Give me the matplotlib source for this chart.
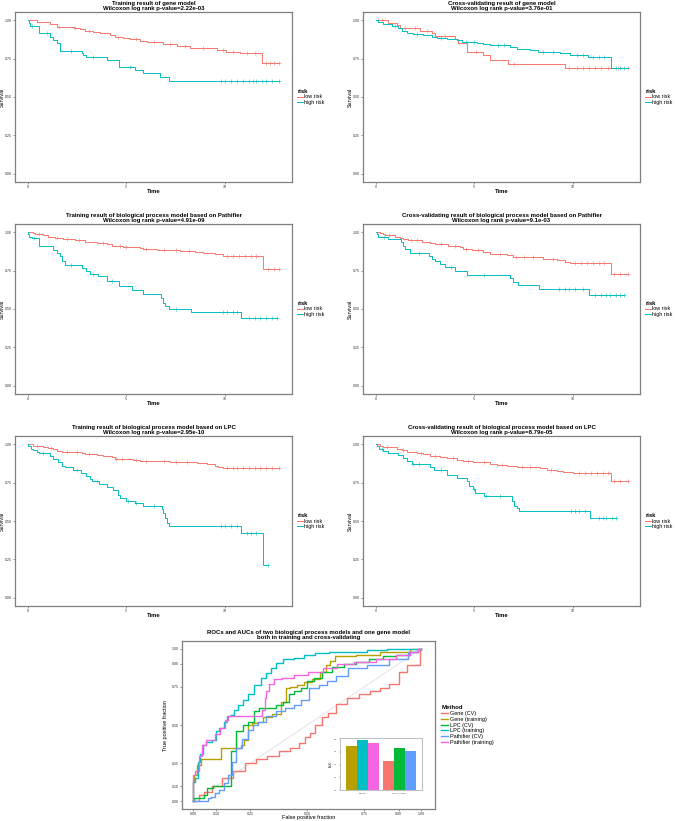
import numpy as np
import matplotlib
matplotlib.use("Agg")
import matplotlib.pyplot as plt

plt.rcParams['font.family'] = ['Liberation Sans', 'DejaVu Sans']

# ---------------- data ----------------
LOW_COLOR = '#F8766D'
HIGH_COLOR = '#00BFC4'

titles = [
    "Training result of gene model\nWilcoxon log rank p-value=2.22e-03",
    "Cross-validating result of gene model\nWilcoxon log rank p-value=3.76e-01",
    "Training result of biological process model based on Pathifier\nWilcoxon log rank p-value=4.91e-09",
    "Cross-validating result of biological process model based on Pathifier\nWilcoxon log rank p-value=9.1e-03",
    "Training result of biological process model based on LPC\nWilcoxon log rank p-value=2.95e-10",
    "Cross-validating result of biological process model based on LPC\nWilcoxon log rank p-value=8.79e-05",
]

# panel 1: training gene
p1_low_t = [0, 0.46, 1.13, 1.47, 2.33, 2.65, 2.90, 3.33, 3.67, 4.17, 4.42, 4.85, 5.19, 5.71, 6.05, 6.87, 7.55, 8.22, 8.73, 9.58, 10.08, 10.76, 11.86, 12.75]
p1_low_s = [1.0, 0.99, 0.974, 0.957, 0.946, 0.94, 0.93, 0.924, 0.913, 0.903, 0.887, 0.881, 0.874, 0.866, 0.859, 0.842, 0.831, 0.82, 0.816, 0.805, 0.794, 0.784, 0.723, 0.723]
p1_low_c = [1.6, 2.4, 3.1, 4.6, 5.5, 6.4, 7.2, 8.0, 8.9, 9.9, 10.4, 11.1, 11.5, 12.1, 12.3, 12.5, 12.75]
p1_high_t = [0, 0.05, 0.12, 0.59, 1.13, 1.30, 1.47, 1.64, 2.74, 2.79, 2.96, 4.00, 4.65, 5.44, 5.84, 6.70, 7.18, 12.75]
p1_high_s = [1.0, 0.983, 0.96, 0.913, 0.892, 0.87, 0.848, 0.80, 0.783, 0.77, 0.757, 0.74, 0.697, 0.675, 0.654, 0.628, 0.606, 0.606]
p1_high_c = [0.2, 1.0, 2.2, 3.3, 5.2, 9.8, 10.0, 10.3, 10.6, 10.9, 11.2, 11.4, 11.6, 11.9, 12.1, 12.4, 12.75]

# panel 2: cross-validating gene
p2_low_t = [0, 0.64, 1.06, 1.23, 2.25, 2.84, 3.01, 4.02, 4.19, 4.61, 5.46, 5.79, 6.72, 9.59, 12.77]
p2_low_s = [1.0, 0.983, 0.968, 0.95, 0.93, 0.913, 0.896, 0.877, 0.848, 0.794, 0.773, 0.74, 0.714, 0.686, 0.686]
p2_low_c = [0.1, 0.3, 1.5, 2.0, 2.6, 3.5, 5.1, 7.0, 9.8, 10.2, 10.5, 10.8, 11.1, 11.4, 11.8, 12.3, 12.77]
p2_high_t = [0, 0.14, 0.39, 0.81, 1.15, 1.32, 1.57, 1.91, 2.42, 2.84, 3.09, 3.60, 4.10, 4.36, 5.12, 5.46, 5.79, 6.81, 7.15, 7.82, 8.24, 9.34, 9.85, 10.78, 11.93, 12.77]
p2_high_s = [1.0, 0.989, 0.974, 0.96, 0.946, 0.93, 0.918, 0.91, 0.903, 0.892, 0.885, 0.879, 0.87, 0.859, 0.853, 0.844, 0.838, 0.827, 0.81, 0.805, 0.794, 0.784, 0.773, 0.758, 0.686, 0.686]
p2_high_c = [1.0, 2.1, 3.3, 4.6, 5.0, 6.2, 6.5, 8.5, 9.0, 10.2, 10.5, 11.0, 11.3, 11.6, 12.2, 12.4, 12.6]

# panel 3: training Pathifier
p3_low_t = [0, 0.29, 0.37, 0.79, 1.05, 1.39, 1.81, 2.40, 2.91, 3.50, 4.00, 4.26, 4.85, 5.27, 5.69, 5.86, 6.54, 7.13, 7.72, 8.48, 8.90, 9.49, 9.66, 9.92, 11.91, 12.75]
p3_low_s = [1.0, 0.993, 0.985, 0.98, 0.97, 0.962, 0.955, 0.945, 0.935, 0.93, 0.92, 0.91, 0.905, 0.9, 0.895, 0.89, 0.885, 0.88, 0.875, 0.87, 0.865, 0.86, 0.855, 0.845, 0.762, 0.762]
p3_low_c = [0.6, 1.5, 2.0, 2.6, 3.8, 4.7, 5.0, 6.0, 6.9, 7.5, 8.2, 10.1, 10.4, 10.7, 11.0, 11.3, 11.6, 12.2, 12.5, 12.75]
p3_high_t = [0, 0.03, 0.08, 0.20, 0.59, 1.30, 1.47, 1.64, 1.72, 1.89, 2.74, 2.96, 3.16, 3.58, 4.04, 4.63, 5.27, 5.83, 6.74, 6.88, 6.97, 7.18, 8.26, 10.79, 12.62]
p3_high_s = [1.0, 0.985, 0.97, 0.96, 0.911, 0.886, 0.864, 0.842, 0.814, 0.788, 0.767, 0.745, 0.73, 0.713, 0.685, 0.648, 0.626, 0.60, 0.572, 0.54, 0.518, 0.497, 0.482, 0.443, 0.443]
p3_high_c = [0.3, 2.2, 3.3, 4.3, 7.5, 9.9, 10.1, 10.4, 10.6, 11.2, 11.5, 11.8, 12.1, 12.4, 12.62]

# panel 4: cross-validating Pathifier
p4_low_t = [0, 0.22, 0.39, 0.47, 0.98, 1.23, 1.40, 1.66, 2.33, 2.75, 3.01, 3.68, 4.27, 4.44, 4.86, 5.46, 5.79, 6.05, 6.64, 6.98, 7.82, 8.50, 9.17, 9.59, 9.85, 11.91, 12.77]
p4_low_s = [1.0, 0.993, 0.985, 0.978, 0.97, 0.96, 0.952, 0.945, 0.935, 0.928, 0.92, 0.91, 0.9, 0.89, 0.88, 0.87, 0.86, 0.855, 0.848, 0.84, 0.835, 0.825, 0.815, 0.805, 0.80, 0.728, 0.728]
p4_low_c = [0.7, 1.8, 2.1, 3.3, 4.0, 4.6, 5.2, 6.3, 7.1, 7.5, 8.0, 9.0, 10.1, 10.4, 10.7, 11.0, 11.3, 11.6, 12.1, 12.4, 12.77]
p4_high_t = [0, 0.05, 0.14, 0.64, 1.27, 1.37, 1.49, 1.74, 2.72, 2.84, 3.01, 3.26, 3.51, 4.02, 4.61, 6.81, 6.94, 7.23, 8.29, 10.83, 12.60]
p4_high_s = [1.0, 0.985, 0.965, 0.955, 0.935, 0.91, 0.89, 0.865, 0.845, 0.825, 0.81, 0.79, 0.77, 0.75, 0.72, 0.70, 0.675, 0.655, 0.63, 0.594, 0.594]
p4_high_c = [0.4, 2.2, 3.8, 5.5, 9.3, 9.6, 9.8, 10.1, 10.5, 11.1, 11.4, 11.7, 11.9, 12.2, 12.4, 12.6]

# panel 5: training LPC
p5_low_t = [0, 0.29, 0.46, 0.79, 1.05, 1.30, 1.47, 1.72, 2.23, 2.74, 2.91, 3.50, 3.83, 4.09, 4.26, 4.43, 4.93, 5.35, 5.69, 6.54, 7.21, 7.97, 8.56, 9.07, 9.49, 9.66, 9.92, 12.75]
p5_low_s = [1.0, 0.99, 0.985, 0.98, 0.975, 0.965, 0.955, 0.95, 0.945, 0.94, 0.935, 0.93, 0.925, 0.92, 0.915, 0.905, 0.90, 0.895, 0.89, 0.888, 0.885, 0.882, 0.875, 0.87, 0.86, 0.853, 0.845, 0.845]
p5_low_c = [0.5, 1.2, 2.0, 2.5, 3.1, 4.5, 4.8, 5.5, 6.0, 6.9, 7.5, 8.1, 10.1, 10.4, 10.6, 10.9, 11.2, 11.5, 11.8, 12.1, 12.4, 12.75]
p5_high_t = [0, 0.03, 0.15, 0.29, 0.46, 0.59, 1.13, 1.30, 1.55, 1.72, 1.89, 2.28, 2.70, 2.96, 3.16, 3.24, 3.61, 4.04, 4.34, 4.59, 4.68, 4.98, 5.44, 5.83, 6.79, 6.88, 6.97, 7.05, 7.18, 10.81, 11.94, 12.16]
p5_high_s = [1.0, 0.985, 0.97, 0.96, 0.95, 0.94, 0.92, 0.90, 0.88, 0.86, 0.85, 0.83, 0.81, 0.79, 0.775, 0.76, 0.74, 0.72, 0.70, 0.67, 0.65, 0.63, 0.62, 0.60, 0.58, 0.55, 0.52, 0.49, 0.465, 0.42, 0.215, 0.215]
p5_high_c = [0.8, 2.5, 3.5, 5.1, 5.5, 6.4, 9.8, 10.0, 10.3, 10.6, 11.1, 11.3, 11.6, 12.16]

# panel 6: cross-validating LPC
p6_low_t = [0, 0.22, 0.39, 0.81, 1.06, 1.32, 1.57, 2.08, 2.42, 2.75, 3.26, 3.60, 4.10, 4.44, 4.95, 5.29, 5.79, 6.13, 6.64, 7.15, 7.99, 8.33, 8.67, 9.17, 9.51, 10.02, 11.91, 12.77]
p6_low_s = [1.0, 0.99, 0.983, 0.978, 0.97, 0.958, 0.946, 0.94, 0.932, 0.924, 0.915, 0.907, 0.897, 0.888, 0.883, 0.88, 0.873, 0.866, 0.86, 0.853, 0.849, 0.842, 0.834, 0.825, 0.816, 0.81, 0.758, 0.758]
p6_low_c = [0.6, 1.4, 2.3, 3.0, 3.9, 4.7, 5.5, 6.4, 7.4, 7.8, 8.9, 10.3, 10.6, 10.9, 11.2, 11.5, 11.8, 12.1, 12.4, 12.77]
p6_high_t = [0, 0.05, 0.19, 0.39, 0.64, 1.15, 1.37, 1.57, 1.82, 2.75, 2.96, 3.60, 4.14, 4.61, 4.75, 4.92, 5.03, 5.51, 6.89, 7.03, 7.15, 7.26, 10.86, 12.18]
p6_high_s = [1.0, 0.985, 0.97, 0.955, 0.94, 0.93, 0.91, 0.89, 0.87, 0.85, 0.83, 0.80, 0.78, 0.76, 0.73, 0.71, 0.68, 0.66, 0.63, 0.60, 0.585, 0.568, 0.52, 0.52]
p6_high_c = [0.3, 1.9, 2.2, 3.3, 5.0, 5.6, 6.3, 9.9, 10.1, 10.3, 10.6, 11.3, 11.5, 11.7, 12.0, 12.18]

km_panels = [
    (p1_low_t, p1_low_s, p1_low_c, p1_high_t, p1_high_s, p1_high_c),
    (p2_low_t, p2_low_s, p2_low_c, p2_high_t, p2_high_s, p2_high_c),
    (p3_low_t, p3_low_s, p3_low_c, p3_high_t, p3_high_s, p3_high_c),
    (p4_low_t, p4_low_s, p4_low_c, p4_high_t, p4_high_s, p4_high_c),
    (p5_low_t, p5_low_s, p5_low_c, p5_high_t, p5_high_s, p5_high_c),
    (p6_low_t, p6_low_s, p6_low_c, p6_high_t, p6_high_s, p6_high_c),
]
risk_labels = ["low risk", "high risk"]

# ROC data
methods = ["Gene (CV)", "Gene (training)", "LPC (CV)", "LPC (training)", "Pathifier (CV)", "Pathifier (training)"]
method_colors = ['#F8766D', '#B79F00', '#00BA38', '#00BFC4', '#619CFF', '#F564E3']
gene_cv_fpr = [0, 0.015, 0.03, 0.06, 0.10, 0.15, 0.20, 0.25, 0.30, 0.35, 0.40, 0.45, 0.48, 0.50, 0.52, 0.55, 0.58, 0.60, 0.65, 0.70, 0.75, 0.80, 0.84, 0.88, 0.92, 0.95, 0.99, 1.0]
gene_cv_tpr = [0, 0, 0.04, 0.06, 0.10, 0.15, 0.20, 0.25, 0.28, 0.30, 0.33, 0.35, 0.38, 0.42, 0.45, 0.50, 0.55, 0.58, 0.64, 0.68, 0.70, 0.72, 0.74, 0.77, 0.85, 0.89, 0.89, 1.0]
gene_tr_fpr = [0, 0, 0.007, 0.022, 0.044, 0.118, 0.125, 0.206, 0.213, 0.228, 0.25, 0.265, 0.29, 0.32, 0.368, 0.404, 0.41, 0.44, 0.47, 0.50, 0.54, 0.57, 0.59, 0.61, 0.63, 0.80, 0.84, 0.90, 1.0]
gene_tr_tpr = [0, 0.13, 0.17, 0.24, 0.28, 0.28, 0.35, 0.35, 0.37, 0.40, 0.50, 0.51, 0.52, 0.55, 0.57, 0.65, 0.74, 0.75, 0.76, 0.78, 0.80, 0.85, 0.89, 0.92, 0.95, 0.96, 0.98, 0.98, 1.0]
lpc_cv_fpr = [0, 0.007, 0.044, 0.051, 0.066, 0.103, 0.16, 0.169, 0.206, 0.228, 0.25, 0.28, 0.30, 0.353, 0.375, 0.41, 0.425, 0.456, 0.485, 0.515, 0.544, 0.588, 0.632, 0.69, 0.74, 0.80, 0.86, 0.92, 0.97, 1.0]
lpc_cv_tpr = [0, 0.02, 0.02, 0.04, 0.09, 0.10, 0.10, 0.33, 0.46, 0.50, 0.52, 0.59, 0.61, 0.61, 0.63, 0.65, 0.70, 0.72, 0.74, 0.79, 0.81, 0.85, 0.88, 0.90, 0.91, 0.93, 0.95, 0.96, 0.98, 1.0]
lpc_tr_fpr = [0, 0, 0.015, 0.022, 0.037, 0.044, 0.066, 0.096, 0.103, 0.125, 0.14, 0.154, 0.176, 0.184, 0.206, 0.228, 0.25, 0.28, 0.31, 0.324, 0.353, 0.375, 0.41, 0.47, 0.50, 0.57, 0.62, 0.72, 0.80, 0.90, 1.0]
lpc_tr_tpr = [0, 0.13, 0.15, 0.26, 0.31, 0.37, 0.39, 0.40, 0.46, 0.48, 0.52, 0.557, 0.568, 0.60, 0.633, 0.666, 0.70, 0.764, 0.81, 0.84, 0.873, 0.906, 0.93, 0.94, 0.96, 0.97, 0.98, 0.98, 0.99, 1.0, 1.0]
path_cv_fpr = [0, 0.059, 0.066, 0.088, 0.103, 0.125, 0.14, 0.162, 0.176, 0.198, 0.228, 0.25, 0.272, 0.294, 0.346, 0.382, 0.426, 0.456, 0.485, 0.53, 0.574, 0.60, 0.65, 0.71, 0.81, 0.91, 0.97, 1.0]
path_cv_tpr = [0, 0, 0.02, 0.03, 0.055, 0.076, 0.12, 0.175, 0.26, 0.35, 0.41, 0.47, 0.50, 0.52, 0.557, 0.59, 0.61, 0.63, 0.666, 0.74, 0.76, 0.79, 0.82, 0.87, 0.89, 0.93, 0.98, 1.0]
path_tr_fpr = [0, 0, 0.015, 0.03, 0.044, 0.066, 0.088, 0.103, 0.13, 0.147, 0.16, 0.29, 0.31, 0.317, 0.324, 0.338, 0.368, 0.41, 0.47, 0.54, 0.60, 0.66, 0.75, 0.85, 0.93, 0.97, 1.0]
path_tr_tpr = [0, 0.17, 0.20, 0.30, 0.37, 0.40, 0.40, 0.44, 0.48, 0.53, 0.557, 0.557, 0.60, 0.68, 0.72, 0.77, 0.80, 0.81, 0.83, 0.85, 0.87, 0.90, 0.91, 0.93, 0.96, 0.98, 1.0]
roc_fpr = [gene_cv_fpr, gene_tr_fpr, lpc_cv_fpr, lpc_tr_fpr, path_cv_fpr, path_tr_fpr]
roc_tpr = [gene_cv_tpr, gene_tr_tpr, lpc_cv_tpr, lpc_tr_tpr, path_cv_tpr, path_tr_tpr]

# inset AUC bars
auc_groups = ["training", "cross-validating"]
auc_training = [0.70, 0.79, 0.74]   # Gene, LPC, Pathifier
auc_cv = [0.46, 0.66, 0.61]         # Gene, LPC, Pathifier
auc_training_colors = ['#B79F00', '#00BFC4', '#F564E3']
auc_cv_colors = ['#F8766D', '#00BA38', '#619CFF']

# ---------------- drawing ----------------
W, H = 675, 821
fig = plt.figure(figsize=(W / 100, H / 100), dpi=100)
BORDER = '#7f7f7f'
TICKFS = 2.6


def style_axes(ax):
    for s in ax.spines.values():
        s.set_color(BORDER)
        s.set_linewidth(0.9)
    ax.tick_params(axis='both', length=1.5, width=0.4, color='#444444',
                   labelsize=TICKFS, pad=1.0, labelcolor='#333333')


def px_axes(x0, y0, x1, y1):
    return fig.add_axes([x0 / W, 1 - y1 / H, (x1 - x0) / W, (y1 - y0) / H])


positions = [(15, 12, 292, 182), (363, 12, 640, 182),
             (15, 224, 292, 394), (363, 224, 640, 394),
             (15, 436, 292, 606), (363, 436, 640, 606)]

for (pos, title, data) in zip(positions, titles, km_panels):
    ax = px_axes(*pos)
    lt, ls, lc, ht, hs, hc = data
    for t, s, c, col, lab in [(lt, ls, lc, LOW_COLOR, risk_labels[0]),
                              (ht, hs, hc, HIGH_COLOR, risk_labels[1])]:
        t = np.asarray(t)
        s = np.asarray(s)
        ax.step(t, s, where='post', color=col, lw=0.7, label=lab)
        c = np.asarray(c)
        idx = np.searchsorted(t, c, side='right') - 1
        ax.plot(c, s[idx], linestyle='none', marker='+', color=col,
                markersize=2.2, markeredgewidth=0.4)
    ax.set_xlim(-0.64, 13.4)
    ax.set_ylim(-0.052, 1.052)
    ax.set_xticks([0, 5, 10])
    ax.set_xticklabels(['0', '5', '10'])
    ax.set_yticks([0, 0.25, 0.5, 0.75, 1.0])
    ax.set_yticklabels(['0.00', '0.25', '0.50', '0.75', '1.00'])
    style_axes(ax)
    ax.set_title(title, fontsize=4.3, fontweight='bold', pad=1.6, linespacing=0.95)
    ax.set_xlabel('Time', fontsize=4.2, fontweight='bold')
    ax.xaxis.set_label_coords(0.5, -0.042)
    ax.set_ylabel('Survival', fontsize=3.9)
    ax.yaxis.set_label_coords(-0.036, 0.5)
    leg = ax.legend(loc='center left', bbox_to_anchor=(1.005, 0.5), frameon=False,
                    fontsize=3.9, title='risk', title_fontsize=4.2,
                    handlelength=1.0, handletextpad=0.35, labelspacing=0.15,
                    borderpad=0.2, alignment='left')
    leg.get_title().set_fontweight('bold')

# ROC panel
ax = px_axes(182, 641, 435, 809)
ax.plot([0, 1], [0, 1], color='#d9d9d9', lw=0.5, zorder=1)
for fpr, tpr, col, lab in zip(roc_fpr, roc_tpr, method_colors, methods):
    ax.plot(fpr, tpr, color=col, lw=1.0, label=lab, drawstyle='steps-mid', zorder=2)
ticks = [0, 0.1, 0.25, 0.5, 0.75, 0.9, 1.0]
ticklabs = ['0.00', '0.10', '0.25', '0.50', '0.75', '0.90', '1.00']
ax.set_xlim(-0.05, 1.06)
ax.set_ylim(-0.05, 1.05)
ax.set_xticks(ticks)
ax.set_xticklabels(ticklabs)
ax.set_yticks(ticks)
ax.set_yticklabels(ticklabs)
style_axes(ax)
ax.set_title("ROCs and AUCs of two biological process models and one gene model\nboth in training and cross-validating",
             fontsize=4.3, fontweight='bold', pad=1.6, linespacing=0.95)
ax.set_xlabel('False positive fraction', fontsize=4.0)
ax.xaxis.set_label_coords(0.5, -0.036)
ax.set_ylabel('True positive fraction', fontsize=4.0)
ax.yaxis.set_label_coords(-0.055, 0.5)
leg = ax.legend(loc='center left', bbox_to_anchor=(1.01, 0.5), frameon=False,
                fontsize=4.0, title='Method', title_fontsize=4.3,
                handlelength=1.2, handletextpad=0.4, labelspacing=0.15,
                borderpad=0.2, alignment='left')
leg.get_title().set_fontweight('bold')

# inset bar chart
iax = px_axes(340, 738, 422, 790)
bw = 0.3
for gi, (vals, cols) in enumerate([(auc_training, auc_training_colors), (auc_cv, auc_cv_colors)]):
    for k, (v, c) in enumerate(zip(vals, cols)):
        iax.bar(gi + 1 + (k - 1) * bw, v, width=bw, color=c, edgecolor='none')
iax.set_xlim(0.4, 2.6)
iax.set_ylim(0, 0.82)
iax.set_xticks([1, 2])
iax.set_xticklabels(auc_groups)
iax.set_yticks([0, 0.2, 0.4, 0.6, 0.8])
iax.set_yticklabels(['0.0', '0.2', '0.4', '0.6', '0.8'])
for s in iax.spines.values():
    s.set_color('#bdbdbd')
    s.set_linewidth(0.7)
iax.tick_params(axis='both', length=1.0, width=0.3, color='#666666',
                labelsize=1.6, pad=0.8, labelcolor='#555555')
iax.set_ylabel('AUC', fontsize=1.8, labelpad=1)

fig.savefig('out.png', dpi=100, facecolor='white')
